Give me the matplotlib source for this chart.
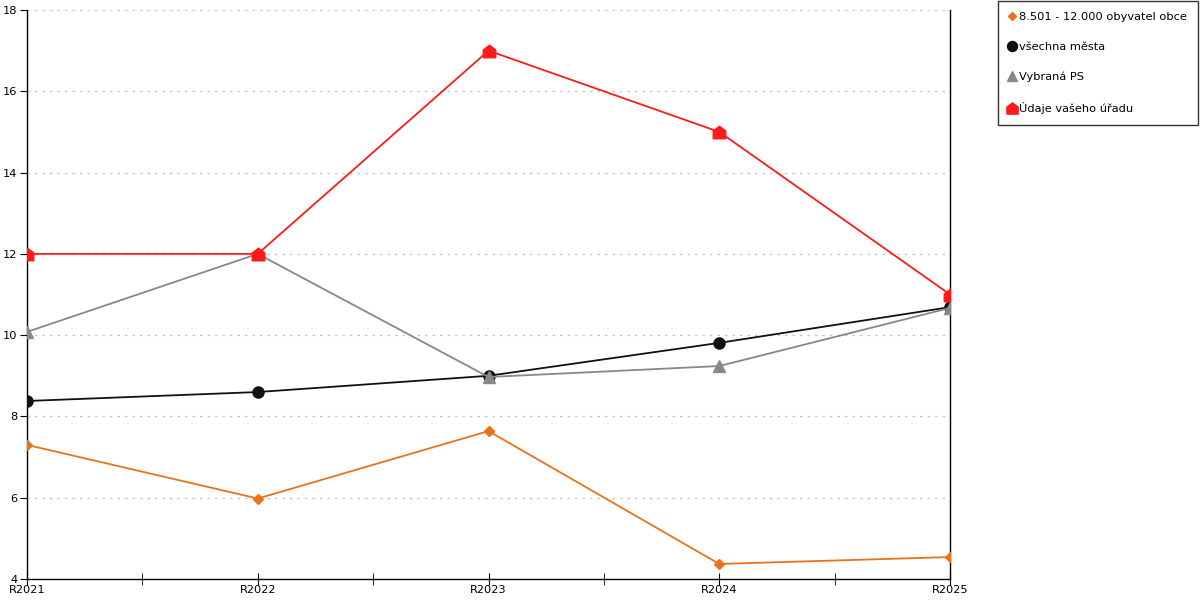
import matplotlib
matplotlib.use("Agg")
import matplotlib.pyplot as plt
from matplotlib.lines import Line2D
from matplotlib.path import Path
import numpy as np

plt.rcParams["font.family"] = ["DejaVu Sans"]

# data
years = ["R2021", "R2022", "R2023", "R2024", "R2025"]
obyvatel = [7.30, 5.98, 7.64, 4.37, 4.54]
vsechna = [8.38, 8.60, 9.00, 9.81, 10.69]
vybrana = [10.08, 12.00, 8.97, 9.24, 10.67]
urad = [12.0, 12.0, 17.0, 15.0, 11.0]

labels = ["8.501 - 12.000 obyvatel obce", "všechna města", "Vybraná PS", "Údaje vašeho úřadu"]
colors = ["#E8731A", "#111111", "#888888", "#FF1A1A"]

# marker "domeček"
house = Path([(-1, -1), (1, -1), (1, 0.25), (0, 1), (-1, 0.25), (-1, -1)],
             [Path.MOVETO, Path.LINETO, Path.LINETO, Path.LINETO, Path.LINETO, Path.CLOSEPOLY])

series = [
    (obyvatel, "D", 5),
    (vsechna, "o", 8),
    (vybrana, "^", 8),
    (urad, house, 9),
]

fig = plt.figure(figsize=(12, 6), dpi=100)
ax = fig.add_axes([0.0225, 0.035, 0.7692, 0.9483])

x = np.arange(len(years))
for (vals, mk, ms), c in zip(series, colors):
    ax.plot(x, vals, color=c, linewidth=1.3, marker=mk, markersize=ms,
            markerfacecolor=c, markeredgecolor=c, zorder=3)

ax.set_xlim(0, len(years) - 1)
ax.set_ylim(4, 18)
ax.set_yticks(np.arange(4, 19, 2))
ax.set_xticks(x)
ax.set_xticklabels(years)
ax.set_xticks(x[:-1] + 0.5, minor=True)

ax.yaxis.grid(True, color="#c4c4c4", linestyle=(0, (2, 4)), linewidth=0.9)
ax.set_axisbelow(True)
ax.spines["top"].set_visible(False)
for s in ["left", "right", "bottom"]:
    ax.spines[s].set_color("black")
    ax.spines[s].set_linewidth(1.0)

ax.tick_params(axis="y", direction="out", length=5, labelsize=8.2, pad=2)
ax.tick_params(axis="x", which="both", direction="inout", length=8, labelsize=8.2, pad=0)
ax.tick_params(axis="y", right=False)

handles = [Line2D([], [], linestyle="none", marker=mk, markersize=ms * 0.9,
                  color=c) for (v, mk, ms), c in zip(series, colors)]
leg = fig.legend(handles, labels, loc="upper left", bbox_to_anchor=(0.832, 0.998),
                 frameon=True, fancybox=False, edgecolor="black", fontsize=8.2,
                 handlelength=0.5, handletextpad=0.4, labelspacing=1.75,
                 borderpad=0.95, borderaxespad=0)
leg.get_frame().set_linewidth(1.0)

fig.savefig("out.png", dpi=100)
